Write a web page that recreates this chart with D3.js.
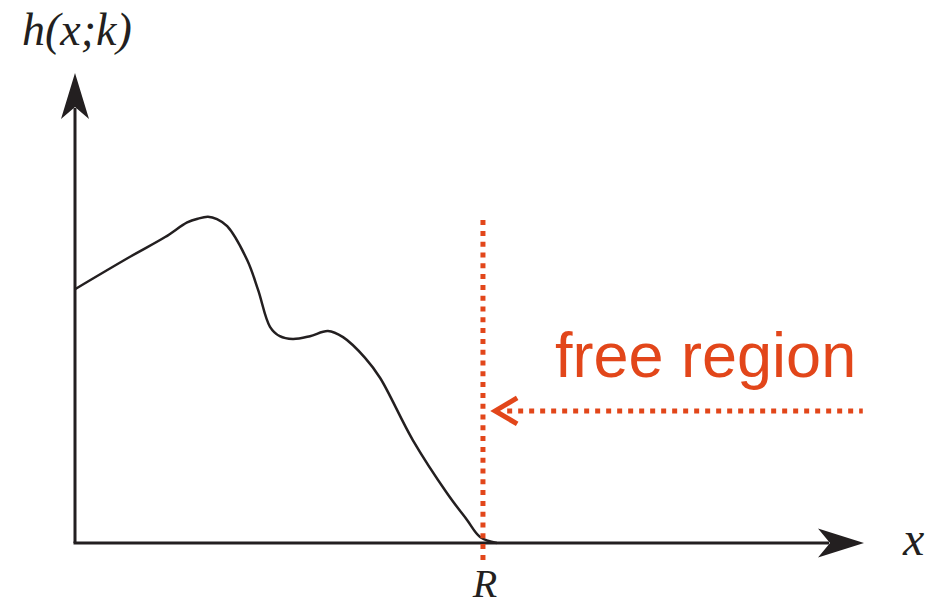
<!DOCTYPE html>
<html>
<head>
<meta charset="utf-8">
<script src="https://cdn.jsdelivr.net/npm/d3@7"></script>
<style>
  html, body { margin: 0; padding: 0; background: #fff; }
  svg { display: block; }
</style>
</head>
<body>
<svg id="chart" width="938" height="607"></svg>
<script>
// Profile h(x;k) sampled along x (in units of R) and its height
const curveX = [0, 0.135, 0.221, 0.275, 0.301, 0.326, 0.348, 0.373, 0.422, 0.449, 0.478, 0.502, 0.534, 0.576, 0.620, 0.657, 0.711, 0.748, 0.828, 0.912, 0.961, 0.993, 1.034];
const curveY = [0.540, 0.609, 0.651, 0.682, 0.690, 0.694, 0.689, 0.674, 0.602, 0.538, 0.460, 0.440, 0.434, 0.440, 0.451, 0.438, 0.394, 0.351, 0.219, 0.106, 0.049, 0.013, 0.0];

// Axis extents
const xAxisMax = 1.934;
const yAxisMax = 1.0;

// Cut-off radius R and the free-region marker
const R = 1.0;
const rLineY = [-0.043, 0.687];
const freeArrowY = 0.281;
const freeArrowX = [1.025, 1.931];

const labels = { yAxis: "h(x;k)", xAxis: "x", radius: "R", region: "free region" };

const ink = "#231f20";
const accent = "#e2461a";

const svg = d3.select("#chart");
const x = d3.scaleLinear().domain([0, xAxisMax]).range([75, 864]);
const y = d3.scaleLinear().domain([0, yAxisMax]).range([543, 73]);

// Axes: plain lines with filled notched arrowheads
svg.append("line")
  .attr("x1", x(0)).attr("y1", y(0))
  .attr("x2", x(0)).attr("y2", y(yAxisMax) + 35)
  .attr("stroke", ink).attr("stroke-width", 3);
svg.append("line")
  .attr("x1", x(0) - 1.5).attr("y1", y(0))
  .attr("x2", x(xAxisMax) - 35).attr("y2", y(0))
  .attr("stroke", ink).attr("stroke-width", 3);

const tipY = [x(0), y(yAxisMax)];
svg.append("path")
  .attr("d", `M${tipY[0]},${tipY[1]} L${tipY[0] + 14},${tipY[1] + 46} L${tipY[0]},${tipY[1] + 34} L${tipY[0] - 14},${tipY[1] + 46} Z`)
  .attr("fill", ink);
const tipX = [x(xAxisMax), y(0)];
svg.append("path")
  .attr("d", `M${tipX[0]},${tipX[1]} L${tipX[0] - 46},${tipX[1] - 14.5} L${tipX[0] - 34},${tipX[1]} L${tipX[0] - 46},${tipX[1] + 14.5} Z`)
  .attr("fill", ink);

// Profile curve
const pts = curveX.map((d, i) => [d, curveY[i]]);
svg.append("path")
  .datum(pts)
  .attr("d", d3.line().x(d => x(d[0])).y(d => y(d[1])).curve(d3.curveCatmullRom.alpha(0.5)))
  .attr("fill", "none")
  .attr("stroke", ink)
  .attr("stroke-width", 2.5);

// Dotted boundary at R
svg.append("line")
  .attr("x1", x(R)).attr("y1", y(rLineY[1]))
  .attr("x2", x(R)).attr("y2", y(rLineY[0]))
  .attr("stroke", accent).attr("stroke-width", 5)
  .attr("stroke-dasharray", "5 5.8");

// Dotted arrow pointing at the boundary
svg.append("line")
  .attr("x1", x(freeArrowX[0]) + 14).attr("y1", y(freeArrowY))
  .attr("x2", x(freeArrowX[1])).attr("y2", y(freeArrowY))
  .attr("stroke", accent).attr("stroke-width", 5)
  .attr("stroke-dasharray", "5 6");
const ax = x(freeArrowX[0]), ay = y(freeArrowY);
svg.append("path")
  .attr("d", `M${ax + 24},${ay - 13} L${ax + 2},${ay} L${ax + 24},${ay + 13}`)
  .attr("fill", "none").attr("stroke", accent).attr("stroke-width", 5)
  .attr("stroke-linejoin", "miter");

// Text
const serif = "'Liberation Serif', 'DejaVu Serif', serif";
svg.append("text").attr("x", 22).attr("y", 45)
  .attr("font-family", serif).attr("font-style", "italic").attr("font-size", 46)
  .attr("fill", ink).text(labels.yAxis);
svg.append("text").attr("x", 903).attr("y", 555)
  .attr("font-family", serif).attr("font-style", "italic").attr("font-size", 48)
  .attr("fill", ink).text(labels.xAxis);
svg.append("text").attr("x", x(R) + 2).attr("y", 597).attr("text-anchor", "middle")
  .attr("font-family", serif).attr("font-style", "italic").attr("font-size", 40)
  .attr("fill", ink).text(labels.radius);
svg.append("text").attr("x", 555).attr("y", 377)
  .attr("font-family", "'Liberation Sans', Arial, sans-serif").attr("font-size", 63)
  .attr("fill", accent).text(labels.region);
</script>
</body>
</html>
